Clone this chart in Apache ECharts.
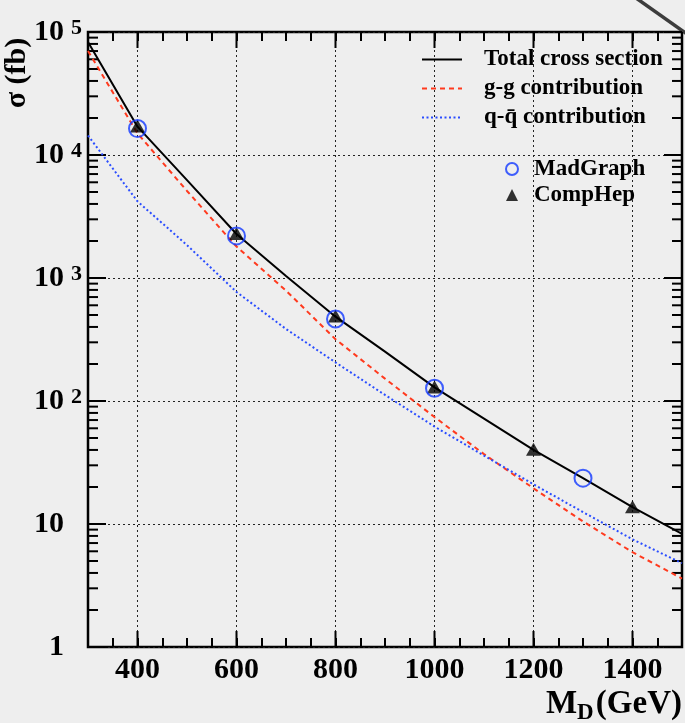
<!DOCTYPE html>
<html>
<head>
<meta charset="utf-8">
<title>cross section vs MD</title>
<script src="https://cdn.jsdelivr.net/npm/echarts@6/dist/echarts.min.js"></script>
<style>
html, body { margin: 0; padding: 0; background: #eeeeee; }
#main { width: 685px; height: 723px; }
</style>
</head>
<body>
<div id="main"></div>
<script>
// M_D (GeV)
var massGeV = [300, 400, 500, 600, 700, 800, 900, 1000, 1100, 1200, 1300, 1400, 1500];
// sigma (fb)
var totalXs = [83000, 17000, 6250, 2280, 1040, 485, 252, 129, 72, 40, 23.6, 13.7, 8.3];
var ggXs = [70000, 15000, 5100, 1800, 790, 318, 152, 74, 37, 19.5, 10.5, 5.9, 3.6];
var qqXs = [14400, 4200, 1850, 770, 385, 206, 112, 62, 36, 21, 12.5, 7.5, 4.8];

// generator points
var mgMass = [400, 600, 800, 1000, 1300];
var mgXs = [16400, 2200, 464, 127, 23.6];
var chMass = [400, 600, 800, 1000, 1200, 1400];
var chXs = [17200, 2300, 490, 130, 40.5, 13.8];

// axes
var xMin = 300, xMax = 1500, yMin = 1, yMax = 100000;
var xLabels = [400, 600, 800, 1000, 1200, 1400];
var yMinorTicks = [];
[1, 10, 100, 1000, 10000].forEach(function (d) {
    for (var k = 2; k <= 9; k++) yMinorTicks.push(k * d);
});

var FONT = '"Liberation Serif", "DejaVu Serif", serif';
var TICK_W = 2;

function pairs(xs, ys) {
    return xs.map(function (x, i) { return [x, ys[i]]; });
}

// extra frame ticks drawn from [x, y] points on the frame
function tickSeries(points, dx, dy) {
    return {
        type: 'custom', silent: true, z: 2,
        data: points,
        renderItem: function (params, api) {
            var p = api.coord([api.value(0), api.value(1)]);
            return { type: 'line', shape: { x1: p[0], y1: p[1], x2: p[0] + dx, y2: p[1] + dy },
                style: { stroke: '#000', lineWidth: TICK_W } };
        }
    };
}

function xAxisCfg(pos) {
    return {
        type: 'value', min: xMin, max: xMax, interval: 50, position: pos,
        axisLine: { show: false }, splitLine: { show: false },
        axisTick: { show: true, inside: true, length: 9, lineStyle: { color: '#000', width: TICK_W } },
        axisLabel: {
            show: pos == 'bottom',
            margin: 8, color: '#000', fontFamily: FONT, fontWeight: 'bold', fontSize: 30,
            formatter: function (v) { return xLabels.indexOf(v) >= 0 ? String(v) : ''; }
        }
    };
}

function yAxisCfg(pos) {
    return {
        type: 'log', logBase: 10, min: yMin, max: yMax, position: pos,
        axisLine: { show: false },
        axisTick: { show: true, inside: true, length: 18, lineStyle: { color: '#000', width: TICK_W } },
        splitLine: { show: pos == 'left', lineStyle: { color: '#222', width: 1, type: [2, 3] } },
        axisLabel: {
            show: pos == 'left',
            margin: 6, color: '#000',
            formatter: function (v) {
                var e = Math.round(Math.log(v) / Math.LN10);
                if (e === 0) return '{b|1}{p|}';
                if (e === 1) return '{b|10}{p|}';
                return '{b|10}{s|' + e + '}';
            },
            rich: {
                b: { fontFamily: FONT, fontWeight: 'bold', fontSize: 30, lineHeight: 30, padding: [8, 0, 8, 0], color: '#000' },
                s: { fontFamily: FONT, fontWeight: 'bold', fontSize: 22, lineHeight: 22, verticalAlign: 'top', padding: [0, 0, 0, 7], color: '#000' },
                p: { width: 18 }
            }
        }
    };
}

var chart = echarts.init(document.getElementById('main'));

var option = {
    backgroundColor: '#eeeeee',
    animation: false,
    grid: {
        left: 88, top: 32, right: 1, bottom: 76,
        show: true, borderColor: '#000', borderWidth: 2.5
    },
    legend: [{
        data: ['Total cross section', 'g-g contribution', 'q-q\u0304 contribution'],
        orient: 'vertical', left: 421, top: 47, padding: 0,
        itemWidth: 40, itemHeight: 14, itemGap: 4,
        selectedMode: false,
        itemStyle: { opacity: 0 },
        textStyle: { fontFamily: FONT, fontWeight: 'bold', fontSize: 23, color: '#000', lineHeight: 25, padding: [0, 0, 0, 17] }
    }, {
        data: ['MadGraph', 'CompHep'],
        orient: 'vertical', left: 505, top: 157, padding: 0,
        itemWidth: 12, itemHeight: 12, itemGap: 2,
        selectedMode: false,
        textStyle: { fontFamily: FONT, fontWeight: 'bold', fontSize: 23, color: '#000', lineHeight: 24, padding: [0, 0, 0, 11] }
    }],
    xAxis: [xAxisCfg('bottom'), xAxisCfg('top')],
    yAxis: [yAxisCfg('left'), yAxisCfg('right')],
    graphic: [{
        type: 'text', x: 17, y: 73, rotation: Math.PI / 2,
        style: { text: '\u03c3 (fb)', font: 'bold 30px ' + FONT, fill: '#000', textAlign: 'center', textVerticalAlign: 'middle' }
    }, {
        type: 'text', x: 546, y: 704,
        style: { text: 'M', font: 'bold 33px ' + FONT, fill: '#000', textAlign: 'left', textVerticalAlign: 'middle' }
    }, {
        type: 'text', x: 577, y: 713,
        style: { text: 'D', font: 'bold 23px ' + FONT, fill: '#000', textAlign: 'left', textVerticalAlign: 'middle' }
    }, {
        type: 'text', x: 682, y: 704,
        style: { text: '(GeV)', font: 'bold 33px ' + FONT, fill: '#000', textAlign: 'right', textVerticalAlign: 'middle' }
    }, {
        type: 'line', shape: { x1: 636, y1: -2, x2: 687, y2: 34 },
        style: { stroke: '#3c3c3c', lineWidth: 3.5 }
    }],
    series: [{
        type: 'custom', silent: true, z: 1,
        data: xLabels.map(function (v) { return [v, 1]; }),
        renderItem: function (params, api) {
            var b = api.coord([api.value(0), yMin]);
            var t = api.coord([api.value(0), yMax]);
            return { type: 'line', shape: { x1: b[0], y1: b[1], x2: t[0], y2: t[1] },
                style: { stroke: '#222', lineWidth: 1, lineDash: [2, 3] } };
        }
    },
        tickSeries(xLabels.map(function (v) { return [v, yMin]; }), 0, -16),
        tickSeries(xLabels.map(function (v) { return [v, yMax]; }), 0, 16),
        tickSeries(yMinorTicks.map(function (v) { return [xMin, v]; }), 10, 0),
        tickSeries(yMinorTicks.map(function (v) { return [xMax, v]; }), -10, 0),
    {
        name: 'Total cross section', type: 'line', z: 4,
        data: pairs(massGeV, totalXs), symbol: 'none',
        itemStyle: { color: '#000' },
        lineStyle: { color: '#000', width: 2 }
    }, {
        name: 'g-g contribution', type: 'line', z: 4,
        data: pairs(massGeV, ggXs), symbol: 'none',
        itemStyle: { color: '#ff3a1e' },
        lineStyle: { color: '#ff3a1e', width: 2, type: [5, 4] }
    }, {
        name: 'q-q\u0304 contribution', type: 'line', z: 4,
        data: pairs(massGeV, qqXs), symbol: 'none',
        itemStyle: { color: '#2a4dff' },
        lineStyle: { color: '#2a4dff', width: 2, type: [2, 2.5] }
    }, {
        name: 'CompHep', type: 'scatter', z: 5,
        data: pairs(chMass, chXs), symbol: 'triangle', symbolSize: [15, 13],
        itemStyle: { color: '#000' }
    }, {
        name: 'MadGraph', type: 'scatter', z: 6,
        data: pairs(mgMass, mgXs), symbol: 'circle', symbolSize: 17,
        itemStyle: { color: 'rgba(0,0,0,0)', borderColor: '#1238ff', borderWidth: 2 }
    }]
};

chart.setOption(option);
</script>
</body>
</html>
